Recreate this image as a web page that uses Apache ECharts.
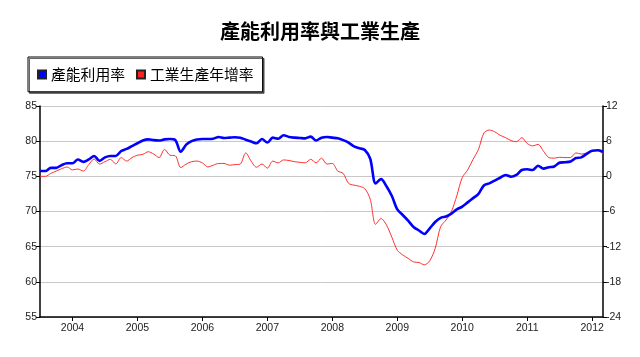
<!DOCTYPE html>
<html>
<head>
<meta charset="utf-8">
<script src="https://cdn.jsdelivr.net/npm/echarts@6/dist/echarts.min.js"></script>
<style>html,body{margin:0;padding:0;background:#fff}#c{width:640px;height:357px}</style>
</head>
<body>
<div id="c"></div>
<script>
// Monthly data, Jul 2003 .. Mar 2012
var startYear = 2003, startMonth = 7, nMonths = 105;
var categories = [];
for (var k = 0; k < nMonths; k++) {
  var m = startMonth - 1 + k;
  var y = startYear + Math.floor(m / 12);
  var mm = (m % 12) + 1;
  categories.push(y + '-' + (mm < 10 ? '0' + mm : mm));
}
var capacityUtil = [
  75.75,75.75,76.2,76.2,76.6,76.85,76.85,77.4,77.05,77.4,77.9,77.2,
  77.7,77.9,77.9,78.6,78.9,79.3,79.7,80.1,80.25,80.15,80.1,80.25,
  80.3,80.15,78.5,79.5,80.0,80.25,80.3,80.3,80.35,80.6,80.45,80.5,
  80.55,80.5,80.2,79.95,79.7,80.3,79.8,80.5,80.35,80.85,80.6,80.5,
  80.45,80.4,80.65,80.1,80.5,80.6,80.5,80.4,80.15,79.8,79.25,79.0,
  78.75,77.5,74.0,74.6,73.6,72.2,70.3,69.5,68.7,67.8,67.3,66.8,
  67.6,68.5,69.1,69.3,69.7,70.3,70.7,71.3,71.9,72.5,73.7,74.0,
  74.4,74.8,75.2,74.95,75.2,75.9,76.0,75.9,76.5,76.1,76.3,76.4,
  76.95,77.0,77.1,77.6,77.7,78.2,78.65,78.7,78.5
];
var ipGrowth = [
  0.0,0.0,0.5,0.9,1.3,1.6,1.1,1.25,0.9,2.0,2.95,2.1,
  2.5,2.9,2.1,3.2,2.6,3.2,3.6,3.75,4.2,3.8,3.2,4.6,
  3.6,3.5,1.5,2.1,2.5,2.6,2.3,1.6,1.9,2.2,2.2,1.9,
  2.0,2.1,4.0,2.6,1.55,2.1,1.4,2.6,2.3,2.8,2.7,2.5,
  2.4,2.3,2.9,2.3,3.1,2.1,2.2,0.9,0.5,-1.2,-1.5,-1.7,
  -2.1,-3.9,-8.2,-7.2,-8.3,-10.4,-12.6,-13.4,-14.0,-14.6,-14.7,-15.1,
  -14.4,-12.3,-8.6,-7.45,-6.0,-3.3,-0.2,1.1,2.9,4.6,7.4,7.9,
  7.6,7.0,6.6,6.1,5.9,6.6,5.6,5.2,5.45,4.3,3.2,3.1,
  3.25,3.2,3.2,4.0,3.8,4.0,4.4,4.4,3.8
];
var leftTicks = {min: 55, max: 85, interval: 5};
var rightTicks = {min: -24, max: 12, interval: 6};
var seriesNames = ['產能利用率', '工業生產年增率'];

var isJan = function (idx, val) { return val.slice(5) === '01'; };
var chart = echarts.init(document.getElementById('c'), null, {renderer: 'canvas'});
var axisLabelStyle = {color: '#222', fontSize: 10.5, fontFamily: 'Liberation Sans, Arial, sans-serif'};
chart.setOption({
  animation: false,
  backgroundColor: '#fff',
  title: {
    text: '產能利用率與工業生產',
    left: 'center', top: 16,
    textStyle: {fontFamily: 'Noto Sans CJK TC', fontSize: 20, fontWeight: 'bold', color: '#000'}
  },
  legend: {
    data: seriesNames,
    left: 28, top: 57,
    padding: [10, 9, 10, 9],
    itemWidth: 8, itemHeight: 8, itemGap: 11,
    icon: 'rect',
    borderColor: '#000', borderWidth: 1,
    shadowColor: 'rgba(0,0,0,0.6)', shadowOffsetX: 1.5, shadowOffsetY: 1.5, shadowBlur: 0,
    backgroundColor: '#fff',
    textStyle: {fontFamily: 'Noto Sans CJK TC', fontSize: 14.8, color: '#000'}
  },
  grid: {left: 40, right: 37, top: 106, bottom: 40},
  xAxis: {
    type: 'category', data: categories, boundaryGap: false,
    axisLine: {onZero: false, lineStyle: {color: '#000', width: 1.5}},
    axisTick: {interval: isJan, length: 4, lineStyle: {color: '#000'}},
    axisLabel: Object.assign({interval: isJan, formatter: function (v) { return v.slice(0, 4); }, margin: 6}, axisLabelStyle),
    splitLine: {show: false}
  },
  yAxis: [
    {
      type: 'value', min: leftTicks.min, max: leftTicks.max, interval: leftTicks.interval, position: 'left',
      axisLine: {show: true, lineStyle: {color: '#000', width: 1.5}},
      axisTick: {show: true, length: 4, lineStyle: {color: '#000'}},
      axisLabel: Object.assign({margin: 3}, axisLabelStyle),
      splitLine: {show: true, lineStyle: {color: '#c8c8c8', width: 1}}
    },
    {
      type: 'value', min: rightTicks.min, max: rightTicks.max, interval: rightTicks.interval, position: 'right',
      axisLine: {show: true, lineStyle: {color: '#000', width: 1.5}},
      axisTick: {show: true, length: 4, lineStyle: {color: '#000'}},
      axisLabel: Object.assign({margin: 3}, axisLabelStyle),
      splitLine: {show: false}
    }
  ],
  series: [
    {
      name: seriesNames[0], type: 'line', data: capacityUtil, yAxisIndex: 0,
      showSymbol: false, smooth: 0.3,
      lineStyle: {color: '#0000ff', width: 2.6},
      itemStyle: {color: '#0000ff', borderColor: '#222', borderWidth: 1},
      z: 3
    },
    {
      name: seriesNames[1], type: 'line', data: ipGrowth, yAxisIndex: 1,
      showSymbol: false, smooth: 0.3,
      lineStyle: {color: '#ff3030', width: 1},
      itemStyle: {color: '#ff2020', borderColor: '#222', borderWidth: 1},
      z: 2
    }
  ]
});
</script>
</body>
</html>
